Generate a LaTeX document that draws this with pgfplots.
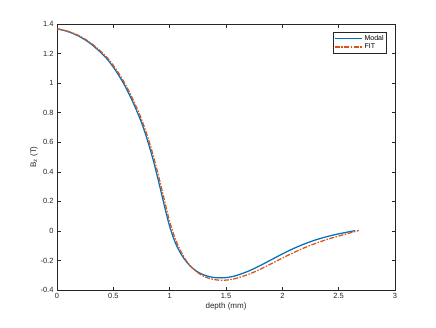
\documentclass[border=0pt]{standalone}
\usepackage{pgfplots}
\pgfplotsset{compat=1.18}
\usepackage{fontspec}
\setmainfont{Liberation Sans}
\definecolor{mblue}{rgb}{0,0.447,0.741}
\definecolor{morange}{rgb}{0.85,0.325,0.098}
\definecolor{axgray}{gray}{0.15}
\begin{document}
\begin{tikzpicture}
\useasboundingbox (-57pt,-37pt) rectangle (379pt,290pt);
\begin{axis}[
    at={(0pt,0pt)}, anchor=south west,
    width=338pt, height=266pt, scale only axis,
    xmin=0, xmax=3, ymin=-0.4, ymax=1.4,
    xtick={0,0.5,...,3},
    ytick={-0.4,-0.2,0,0.2,0.4,0.6,0.8,1,1.2,1.4},
    tick align=inside, xtick pos=both, ytick pos=both,
    major tick length=3.5pt,
    axis line style={axgray, line width=0.5pt},
    tick style={axgray, line width=0.5pt},
    every tick label/.append style={font=\fontsize{7.5}{9}\selectfont, text=axgray},
    /pgf/number format/assume math mode=true,
    xlabel={depth (mm)},
    ylabel={B\textsubscript{z} (T)},
    label style={font=\fontsize{8}{9.5}\selectfont, text=axgray},
    xlabel style={yshift=3pt},
    ylabel style={yshift=-4pt},
    legend style={at={(0.976,0.97)}, anchor=north east, draw=axgray,
        font=\fontsize{7}{8}\selectfont, inner sep=1pt, row sep=-2pt,
        legend cell align=left},
    legend image code/.code={\draw[#1] (0cm,0cm) -- (0.95cm,0cm);},
]
% Modal
\addplot[mblue, line width=1.25pt, smooth] coordinates {
(0,1.368) (0.1,1.348) (0.2,1.315) (0.3,1.266) (0.4,1.199) (0.45,1.158)
(0.5,1.108) (0.55,1.05) (0.6,0.985) (0.65,0.91) (0.7,0.826) (0.75,0.733)
(0.8,0.62) (0.85,0.49) (0.9,0.34) (0.95,0.18) (1.0,0.03) (1.05,-0.08)
(1.1,-0.155) (1.15,-0.21) (1.2,-0.25) (1.25,-0.278) (1.3,-0.297)
(1.35,-0.309) (1.4,-0.316) (1.45,-0.318) (1.5,-0.316) (1.55,-0.31)
(1.6,-0.3) (1.7,-0.272) (1.8,-0.236) (1.9,-0.196) (2.0,-0.156)
(2.1,-0.119) (2.2,-0.087) (2.3,-0.06) (2.4,-0.038) (2.5,-0.02)
(2.6,-0.005) (2.645,0.002)
};
\addlegendentry{Modal}
% FIT
\addplot[morange, line width=1.25pt, smooth, dash pattern=on 5pt off 1.5pt on 1.5pt off 1.5pt] coordinates {
(0,1.368) (0.1,1.35) (0.2,1.319) (0.3,1.272) (0.4,1.207) (0.45,1.168)
(0.5,1.12) (0.55,1.064) (0.6,1.001) (0.65,0.928) (0.7,0.846) (0.75,0.755)
(0.8,0.647) (0.85,0.521) (0.9,0.377) (0.95,0.218) (1.0,0.063) (1.05,-0.055)
(1.1,-0.14) (1.15,-0.205) (1.2,-0.25) (1.25,-0.283) (1.3,-0.306)
(1.35,-0.321) (1.4,-0.33) (1.45,-0.334) (1.5,-0.333) (1.55,-0.328)
(1.6,-0.319) (1.7,-0.294) (1.8,-0.261) (1.9,-0.223) (2.0,-0.184)
(2.1,-0.147) (2.2,-0.113) (2.3,-0.083) (2.4,-0.057) (2.5,-0.035)
(2.6,-0.014) (2.68,0.003)
};
\addlegendentry{FIT}
\end{axis}
\end{tikzpicture}
\end{document}
